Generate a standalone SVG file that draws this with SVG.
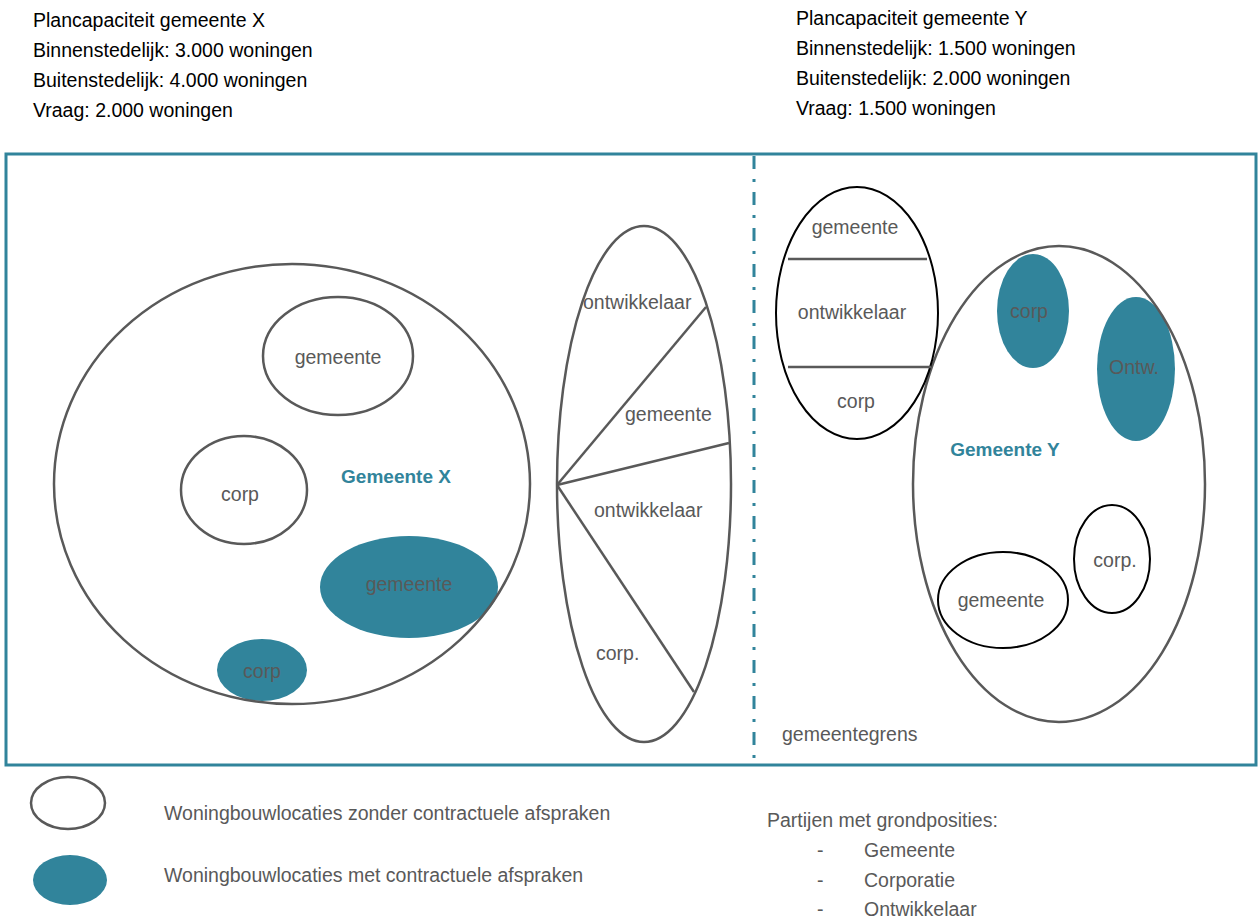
<svg xmlns="http://www.w3.org/2000/svg" width="1260" height="918" viewBox="0 0 1260 918">
  <style>
    text { font-family: "Liberation Sans", Arial, sans-serif; font-size: 19.5px; fill: #595959; }
    .hdr { fill: #000000; }
    .mid { text-anchor: middle; }
    .title { font-weight: bold; font-size: 19px; fill: #31849B; }
    .open { fill: #ffffff; stroke: #595959; stroke-width: 2.5; }
    .ring { fill: none; stroke: #595959; stroke-width: 2.5; }
    .openk { fill: #ffffff; stroke: #000000; stroke-width: 2; }
    .filled { fill: #31849B; stroke: none; }
    .div { stroke: #595959; stroke-width: 2.5; fill: none; }
  </style>

  <!-- plan capacity headers -->
  <g id="header-x">
    <text class="hdr" x="33" y="27">Plancapaciteit gemeente X</text>
    <text class="hdr" x="33" y="57">Binnenstedelijk: 3.000 woningen</text>
    <text class="hdr" x="33" y="87">Buitenstedelijk: 4.000 woningen</text>
    <text class="hdr" x="33" y="117">Vraag: 2.000 woningen</text>
  </g>
  <g id="header-y">
    <text class="hdr" x="796" y="25">Plancapaciteit gemeente Y</text>
    <text class="hdr" x="796" y="55">Binnenstedelijk: 1.500 woningen</text>
    <text class="hdr" x="796" y="85">Buitenstedelijk: 2.000 woningen</text>
    <text class="hdr" x="796" y="115">Vraag: 1.500 woningen</text>
  </g>

  <!-- region frame and municipal border -->
  <g id="frame">
    <rect x="6" y="154" width="1250" height="611" fill="none" stroke="#31849B" stroke-width="3"/>
    <line x1="754" y1="156" x2="754" y2="764" stroke="#31849B" stroke-width="3" stroke-dasharray="13 10 3 10"/>
    <text x="782" y="741">gemeentegrens</text>
  </g>

  <!-- Gemeente X: locations, then the municipal outline on top -->
  <g id="x-gemeente">
    <ellipse class="open" cx="338" cy="356" rx="75" ry="59"/>
    <text class="mid" x="338" y="364">gemeente</text>
  </g>
  <g id="x-corp">
    <ellipse class="open" cx="244" cy="490" rx="63" ry="54"/>
    <text class="mid" x="240" y="501">corp</text>
  </g>
  <g id="x-gemeente-contract">
    <ellipse class="filled" cx="409" cy="587" rx="89" ry="51"/>
    <text class="mid" x="409" y="591">gemeente</text>
  </g>
  <g id="x-corp-contract">
    <ellipse class="filled" cx="262" cy="670" rx="45" ry="31"/>
    <text class="mid" x="262" y="678">corp</text>
  </g>
  <g id="gemeente-x">
    <ellipse class="ring" cx="292" cy="484" rx="238" ry="220"/>
    <text class="title mid" x="396" y="483">Gemeente X</text>
  </g>

  <!-- border area split into sectors -->
  <g id="border-sectors">
    <ellipse class="open" cx="644" cy="484" rx="87" ry="258"/>
    <g class="div">
      <line x1="557" y1="485" x2="706" y2="307"/>
      <line x1="557" y1="485" x2="729" y2="443"/>
      <line x1="557" y1="485" x2="694" y2="692"/>
    </g>
    <text x="583" y="309">ontwikkelaar</text>
    <text x="625" y="421">gemeente</text>
    <text x="594" y="517">ontwikkelaar</text>
    <text x="596" y="660">corp.</text>
  </g>

  <!-- Gemeente Y: locations, then the municipal outline on top -->
  <g id="y-corp-contract">
    <ellipse class="filled" cx="1033" cy="311" rx="36" ry="57"/>
    <text class="mid" x="1029" y="318">corp</text>
  </g>
  <g id="y-ontw-contract">
    <ellipse class="filled" cx="1136" cy="369" rx="39" ry="72"/>
    <text class="mid" x="1134" y="374">Ontw.</text>
  </g>
  <g id="y-corp">
    <ellipse class="openk" cx="1112" cy="559" rx="38" ry="54"/>
    <text class="mid" x="1115" y="567">corp.</text>
  </g>
  <g id="y-gemeente">
    <ellipse class="openk" cx="1003" cy="600" rx="65" ry="48"/>
    <text class="mid" x="1001" y="607">gemeente</text>
  </g>
  <g id="gemeente-y">
    <ellipse class="ring" cx="1059" cy="484" rx="146" ry="238"/>
    <text class="title mid" x="1005" y="456">Gemeente Y</text>
  </g>
  <g id="y-layers">
    <ellipse cx="857" cy="313" rx="81" ry="126" fill="none" stroke="#000000" stroke-width="2"/>
    <g class="div">
      <line x1="788" y1="259" x2="927" y2="259"/>
      <line x1="788" y1="367" x2="931" y2="367"/>
    </g>
    <text class="mid" x="855" y="234">gemeente</text>
    <text class="mid" x="852" y="319">ontwikkelaar</text>
    <text class="mid" x="856" y="408">corp</text>
  </g>

  <!-- legend -->
  <g id="legend-open">
    <ellipse class="open" cx="68" cy="803" rx="37" ry="26"/>
    <text x="164" y="820">Woningbouwlocaties zonder contractuele afspraken</text>
  </g>
  <g id="legend-filled">
    <ellipse class="filled" cx="70" cy="880" rx="37" ry="25"/>
    <text x="164" y="882">Woningbouwlocaties met contractuele afspraken</text>
  </g>
  <g id="legend-parties">
    <text x="767" y="827">Partijen met grondposities:</text>
    <text x="817" y="857">-</text>
    <text x="864" y="857">Gemeente</text>
    <text x="817" y="887">-</text>
    <text x="864" y="887">Corporatie</text>
    <text x="817" y="916">-</text>
    <text x="864" y="916">Ontwikkelaar</text>
  </g>
</svg>
